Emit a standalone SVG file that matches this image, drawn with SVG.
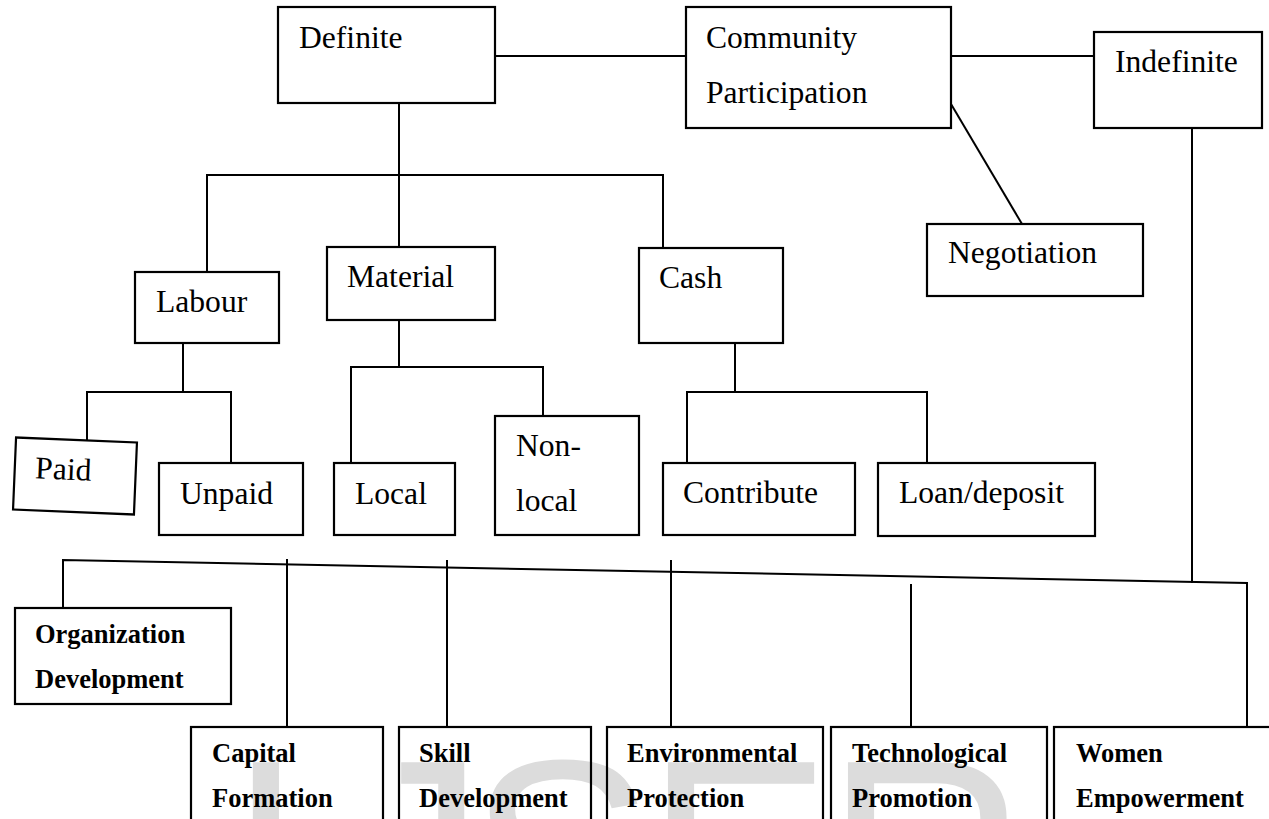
<svg xmlns="http://www.w3.org/2000/svg" width="1269" height="819" viewBox="0 0 1269 819">
<style>
.box{fill:none;stroke:#000;stroke-width:2.2}
.ln{fill:none;stroke:#000;stroke-width:2}
.t{font-family:"Liberation Serif","Times New Roman",serif;font-size:31.6px;fill:#000}
.b{font-family:"Liberation Serif","Times New Roman",serif;font-size:26.5px;font-weight:bold;fill:#000}
.wm{font-family:"Liberation Sans",Arial,sans-serif;font-size:280px;fill:#dcdcdc}
</style>
<rect width="1269" height="819" fill="#fff"/>
<g id="watermark">
<text class="wm" x="227" y="955">I</text>
<text class="wm" x="345" y="955">J</text>
<text class="wm" x="468" y="955">S</text>
<text class="wm" x="645" y="955">E</text>
<text class="wm" x="825" y="955">R</text>
</g>
<g id="connectors">
<line class="ln" x1="495" y1="56" x2="686" y2="56"/>
<line class="ln" x1="951" y1="56" x2="1094" y2="56"/>
<line class="ln" x1="951" y1="104" x2="1022" y2="224"/>
<line class="ln" x1="399" y1="103" x2="399" y2="247"/>
<polyline class="ln" points="207,272 207,175 663,175 663,248"/>
<line class="ln" x1="183" y1="343" x2="183" y2="392"/>
<polyline class="ln" points="87,441 87,392 231,392 231,463"/>
<line class="ln" x1="399" y1="320" x2="399" y2="367"/>
<polyline class="ln" points="351,463 351,367 543,367 543,416"/>
<line class="ln" x1="735" y1="343" x2="735" y2="392"/>
<polyline class="ln" points="687,463 687,392 927,392 927,463"/>
<line class="ln" x1="1192" y1="128" x2="1192" y2="583"/>
<polyline class="ln" points="63,608 63,560 1247,583 1247,727"/>
<line class="ln" x1="287" y1="559" x2="287" y2="727"/>
<line class="ln" x1="447" y1="560" x2="447" y2="727"/>
<line class="ln" x1="671" y1="560" x2="671" y2="727"/>
<line class="ln" x1="911" y1="584" x2="911" y2="727"/>
</g>
<g id="definite"><rect class="box" x="278" y="7" width="217" height="96"/><text class="t" x="299" y="48">Definite</text></g>
<g id="community"><rect class="box" x="686" y="7" width="265" height="121"/><text class="t" x="706" y="48">Community</text><text class="t" x="706" y="103">Participation</text></g>
<g id="indefinite"><rect class="box" x="1094" y="32" width="168" height="96"/><text class="t" x="1115" y="72">Indefinite</text></g>
<g id="negotiation"><rect class="box" x="927" y="224" width="216" height="72"/><text class="t" x="948" y="263">Negotiation</text></g>
<g id="labour"><rect class="box" x="135" y="272" width="144" height="71"/><text class="t" x="156" y="312">Labour</text></g>
<g id="material"><rect class="box" x="327" y="247" width="168" height="73"/><text class="t" x="347" y="287">Material</text></g>
<g id="cash"><rect class="box" x="639" y="248" width="144" height="95"/><text class="t" x="659" y="288">Cash</text></g>
<g id="paid" transform="rotate(2.4 75 476)"><rect class="box" x="14.5" y="440" width="121" height="72"/><text class="t" x="35" y="480">Paid</text></g>
<g id="unpaid"><rect class="box" x="159" y="463" width="144" height="72"/><text class="t" x="180" y="504">Unpaid</text></g>
<g id="local"><rect class="box" x="334" y="463" width="121" height="72"/><text class="t" x="355" y="504">Local</text></g>
<g id="nonlocal"><rect class="box" x="495" y="416" width="144" height="119"/><text class="t" x="516" y="456">Non-</text><text class="t" x="516" y="511">local</text></g>
<g id="contribute"><rect class="box" x="663" y="463" width="192" height="72"/><text class="t" x="683" y="503">Contribute</text></g>
<g id="loan"><rect class="box" x="878" y="463" width="217" height="73"/><text class="t" x="899" y="503">Loan/deposit</text></g>
<g id="organization"><rect class="box" x="15" y="608" width="216" height="96"/><text class="b" x="35" y="643">Organization</text><text class="b" x="35" y="688">Development</text></g>
<g id="capital"><rect class="box" x="191" y="727" width="192" height="110"/><text class="b" x="212" y="762">Capital</text><text class="b" x="212" y="807">Formation</text></g>
<g id="skill"><rect class="box" x="399" y="727" width="192" height="110"/><text class="b" x="419" y="762">Skill</text><text class="b" x="419" y="807">Development</text></g>
<g id="environmental"><rect class="box" x="607" y="727" width="216" height="110"/><text class="b" x="627" y="762">Environmental</text><text class="b" x="627" y="807">Protection</text></g>
<g id="technological"><rect class="box" x="831" y="727" width="216" height="110"/><text class="b" x="852" y="762">Technological</text><text class="b" x="852" y="807">Promotion</text></g>
<g id="women"><rect class="box" x="1054" y="727" width="230" height="110"/><text class="b" x="1076" y="762">Women</text><text class="b" x="1076" y="807">Empowerment</text></g>
</svg>
